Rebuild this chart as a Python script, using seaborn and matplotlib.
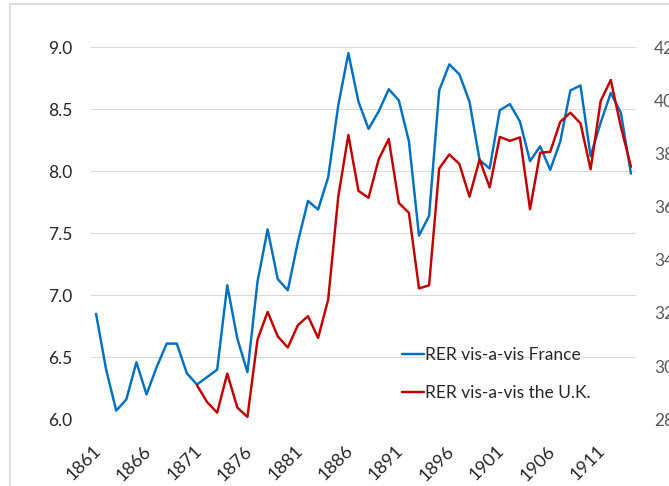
import matplotlib
matplotlib.use("Agg")
import matplotlib.pyplot as plt
import matplotlib.transforms as mtrans
import seaborn as sns
import pandas as pd
from matplotlib.patches import Rectangle

years = list(range(1861, 1915))
rer_france = [6.85, 6.40, 6.07, 6.16, 6.46, 6.20, 6.42, 6.61, 6.61, 6.37,
              6.28, 6.34, 6.40, 7.08, 6.65, 6.38, 7.11, 7.53, 7.13, 7.04,
              7.43, 7.76, 7.69, 7.95, 8.53, 8.95, 8.56, 8.34, 8.48, 8.66,
              8.57, 8.24, 7.48, 7.64, 8.65, 8.86, 8.78, 8.56, 8.09, 8.02,
              8.49, 8.54, 8.40, 8.08, 8.20, 8.01, 8.24, 8.65, 8.69, 8.12,
              8.39, 8.63, 8.47, 7.98]
uk_years = list(range(1871, 1915))
rer_uk = [29.28, 28.65, 28.25, 29.72, 28.44, 28.09, 31.00, 32.04, 31.12, 30.70,
          31.54, 31.88, 31.06, 32.50, 36.37, 38.69, 36.59, 36.33, 37.77, 38.54,
          36.14, 35.76, 32.92, 33.04, 37.43, 37.96, 37.60, 36.37, 37.77, 36.72,
          38.62, 38.47, 38.60, 35.90, 38.02, 38.06, 39.19, 39.53, 39.13, 37.40,
          39.97, 40.76, 39.00, 37.50]
left_ticks = [6.0, 6.5, 7.0, 7.5, 8.0, 8.5, 9.0]
right_ticks = [28, 30, 32, 34, 36, 38, 40, 42]
x_ticks = list(range(1861, 1912, 5))
label_fr = "RER vis-a-vis France"
label_uk = "RER vis-a-vis the U.K."

df_fr = pd.DataFrame({"year": years, "value": rer_france})
df_uk = pd.DataFrame({"year": uk_years, "value": rer_uk})

sns.set_theme(style="white")
plt.rcParams["font.family"] = ["Lato", "DejaVu Sans"]

FS = 12.5
W, H = 669, 486
fig = plt.figure(figsize=(W / 100, H / 100), dpi=100)
left, right, bottom, top = 91, 636, 419.3, 47
ax = fig.add_axes([left / W, 1 - bottom / H, (right - left) / W, (bottom - top) / H])
ax2 = ax.twinx()

blue = "#0070C0"
red = "#C00000"
sns.lineplot(data=df_fr, x="year", y="value", ax=ax, color=blue, linewidth=1.75, label=label_fr, legend=False)
sns.lineplot(data=df_uk, x="year", y="value", ax=ax2, color=red, linewidth=1.75, label=label_uk, legend=False)

ax.set_xlim(1860.5, 1914.5)
ax.set_ylim(6.0, 9.0)
ax2.set_ylim(28, 42)
ax.set_yticks(left_ticks)
ax.set_yticklabels([f"{v:.1f}" for v in left_ticks])
ax2.set_yticks(right_ticks)
ax2.set_yticklabels([str(v) for v in right_ticks])
ax.set_xticks(x_ticks)
ax.set_xticklabels([str(v) for v in x_ticks])
ax.set_xlabel("")
ax.set_ylabel("")
ax2.set_ylabel("")

ax.grid(axis="y", color="#D9D9D9", linewidth=0.8)
ax.grid(axis="x", visible=False)
ax2.grid(False)
for a in (ax, ax2):
    for s in a.spines.values():
        s.set_visible(False)

ax.tick_params(axis="y", length=0, pad=13.5, labelsize=FS, labelcolor="#262626")
ax2.tick_params(axis="y", length=0, pad=13, labelsize=FS, labelcolor="#595959")
ax.tick_params(axis="x", length=0, pad=21, labelsize=FS + 0.5, labelcolor="#262626")
shift = mtrans.ScaledTranslation(2 / 100, 0, fig.dpi_scale_trans)
for lbl in ax.get_xticklabels():
    lbl.set_rotation(45)
    lbl.set_ha("right")
    lbl.set_va("center")
    lbl.set_rotation_mode("anchor")
    lbl.set_transform(lbl.get_transform() + shift)

h1, l1 = ax.get_legend_handles_labels()
h2, l2 = ax2.get_legend_handles_labels()
leg = ax2.legend(h1 + h2, l1 + l2, loc="upper left", bbox_to_anchor=(395 / W, 1 - 340 / H),
                 bbox_transform=fig.transFigure, frameon=False, fontsize=FS,
                 handlelength=1.25, handletextpad=0.05, labelspacing=1.25, borderaxespad=0)
for t in leg.get_texts():
    t.set_color("#262626")

fig.patches.append(Rectangle((10 / W, -0.1), 1.2, 1 - 4.5 / H + 0.1, transform=fig.transFigure,
                             fill=False, edgecolor="#D9D9D9", linewidth=1.2, zorder=0))

fig.savefig("out.png", dpi=100, facecolor="white")
